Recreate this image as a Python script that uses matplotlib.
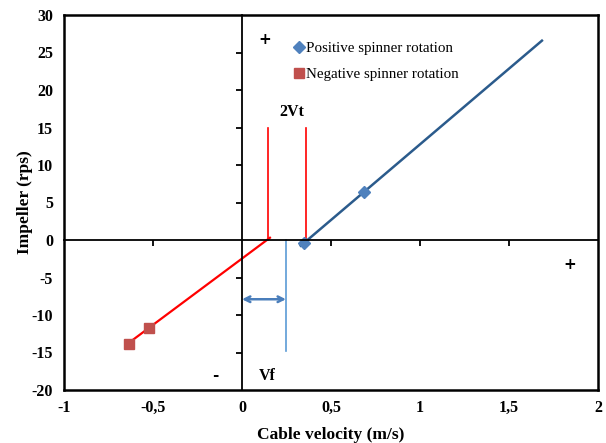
import numpy as np
import matplotlib
matplotlib.use("Agg")
import matplotlib.pyplot as plt

plt.rcParams['font.family'] = ['Liberation Serif', 'DejaVu Serif']
plt.rcParams['axes.unicode_minus'] = False

# ----- data -----
pos_x = [0.348, 0.685]
pos_y = [-0.4, 6.4]
pos_fit_x = [0.33, 1.685]

neg_x = [-0.635, -0.52]
neg_y = [-13.9, -11.7]
neg_fit_x = [-0.635, 0.157]
neg_fit_y = [-13.7, 0.3]

vt_x = [0.146, 0.36]       # red vertical marks (2Vt)
vt_top = 15
vf_x = 0.247               # blue vertical mark (Vf)
vf_bottom = -14.8
vf_arrow_y = -7.9

xticks = [-1, -0.5, 0, 0.5, 1, 1.5, 2]
xtick_labels = ["-1", "-0,5", "0", "0,5", "1", "1,5", "2"]
yticks = list(range(-20, 31, 5))

# fitted line for positive rotation
slope = (pos_y[1] - pos_y[0]) / (pos_x[1] - pos_x[0])
pos_fit_y = [pos_y[0] + slope * (x - pos_x[0]) for x in pos_fit_x]

fig = plt.figure(figsize=(6.06, 4.43), dpi=100)
rect = [64 / 606, 53 / 443, 534 / 606, 375 / 443]
ax = fig.add_axes(rect)

ax.set_xlim(-1, 2)
ax.set_ylim(-20, 30)
ax.set_xticks(xticks)
ax.set_xticklabels(xtick_labels)
ax.set_yticks(yticks)
ax.tick_params(length=0, labelsize=11.5)
ax.tick_params(axis='y', pad=8)
ax.tick_params(axis='x', pad=7)
for lab in ax.get_xticklabels() + ax.get_yticklabels():
    lab.set_fontweight('bold')
for s in ax.spines.values():
    s.set_linewidth(1.8)

ax.set_xlabel("Cable velocity (m/s)", fontsize=12.5, fontweight='bold', labelpad=8)
ax.set_ylabel("Impeller (rps)", fontsize=12.5, fontweight='bold', labelpad=-1)

# inner axes crossing at zero with tick marks
ax2 = fig.add_axes(rect, facecolor='none')
ax2.set_xlim(-1, 2)
ax2.set_ylim(-20, 30)
ax2.set_xticks([x for x in xticks if x not in (-1, 0, 2)])
ax2.set_yticks([y for y in yticks if y not in (-20, 0, 30)])
ax2.spines['left'].set_position(('data', 0))
ax2.spines['bottom'].set_position(('data', 0))
ax2.spines['top'].set_visible(False)
ax2.spines['right'].set_visible(False)
ax2.spines['left'].set_linewidth(1.3)
ax2.spines['bottom'].set_linewidth(1.3)
ax2.tick_params(direction='out', length=4, width=1.3, labelleft=False, labelbottom=False)

# lines and markers
ax.plot(pos_fit_x, pos_fit_y, color='#2B5B8C', lw=1.8, zorder=3)
ax.plot(neg_fit_x, neg_fit_y, color='red', lw=1.6, zorder=3)
ax.plot(pos_x, pos_y, linestyle='none', marker='D', color='#4F81BD', ms=6, zorder=4,
        label='Positive spinner rotation')
ax.plot(neg_x, neg_y, linestyle='none', marker='s', color='#C0504D', ms=7, zorder=4,
        label='Negative spinner rotation')

for x in vt_x:
    ax.plot([x, x], [0, vt_top], color='red', lw=1.2, zorder=2)
ax.plot([vf_x, vf_x], [0, vf_bottom], color='#5B9BD5', lw=1.2, zorder=2)
ax.annotate("", xy=(0, vf_arrow_y), xytext=(vf_x, vf_arrow_y),
            arrowprops=dict(arrowstyle='<->', color='#4A7EBB', lw=1.8,
                            shrinkA=0, shrinkB=0))

ax.text(0.28, 17, "2Vt", fontsize=11.5, fontweight='bold', ha='center', va='center')
ax.text(0.14, -18.1, "Vf", fontsize=11.5, fontweight='bold', ha='center', va='center')
ax.text(0.13, 26.8, "+", fontsize=11, fontweight='bold', ha='center', va='center',
        family='DejaVu Sans')
ax.text(1.84, -3.3, "+", fontsize=11, fontweight='bold', ha='center', va='center',
        family='DejaVu Sans')
ax.text(-0.15, -18.1, "-", fontsize=11, fontweight='bold', ha='center', va='center',
        family='DejaVu Sans')

ax.legend(loc='upper left', bbox_to_anchor=(0.42, 0.945), frameon=False, fontsize=10.8,
          handlelength=0.6, handletextpad=0.2, labelspacing=0.85, borderaxespad=0)

fig.savefig("out.png", dpi=100)
